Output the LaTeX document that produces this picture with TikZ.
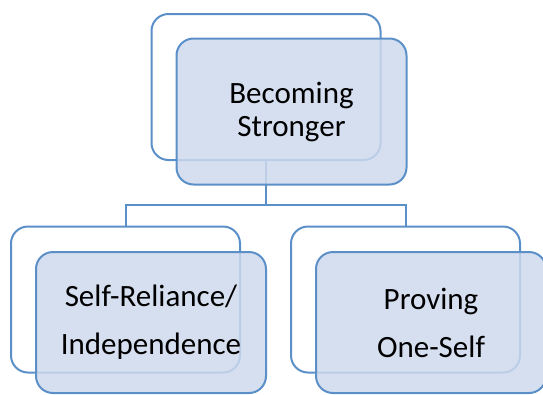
\documentclass[tikz,border=0pt]{standalone}
\usepackage{fontspec}
\setmainfont{Carlito}
\usepackage{tikz}

\definecolor{boxline}{RGB}{91,143,200}
\definecolor{boxfill}{RGB}{206,217,237}

\begin{document}
\begin{tikzpicture}[x=1pt,y=-1pt,
    backbox/.style={draw=boxline,line width=2pt,rounded corners=17pt,minimum width=229pt,minimum height=146pt,inner sep=0pt},
    frontbox/.style={draw=boxline,line width=2pt,rounded corners=17pt,fill=boxfill,fill opacity=0.85,text opacity=1,minimum width=230pt,minimum height=146pt,inner sep=0pt,align=center,font=\fontsize{31}{33}\selectfont},
    link/.style={draw=boxline,line width=2pt}]
            \useasboundingbox (0,0) rectangle (543,394);
            \clip (0,0) rectangle (543,394);
            \node[backbox] (topback) at (266,87) {};
            \node[backbox] (leftback) at (125.5,299.5) {};
            \node[backbox] (rightback) at (405.5,299.5) {};
            \coordinate (bus) at (266,205);
            \draw[link] (topback.south) -- (bus) -| (leftback.north);
            \draw[link] (bus) -| (rightback.north);
            \node[frontbox] (top) at (291.5,111.5) {Becoming\\Stronger};
            \node[frontbox,minimum height=141pt,font=\fontsize{31}{48}\selectfont] (left) at (151,322.5) {Self-Reliance/\\Independence};
            \node[frontbox,minimum height=141pt,font=\fontsize{31}{48}\selectfont] (right) at (431,322.5) {Proving\\One-Self};
          \end{tikzpicture}
\end{document}
